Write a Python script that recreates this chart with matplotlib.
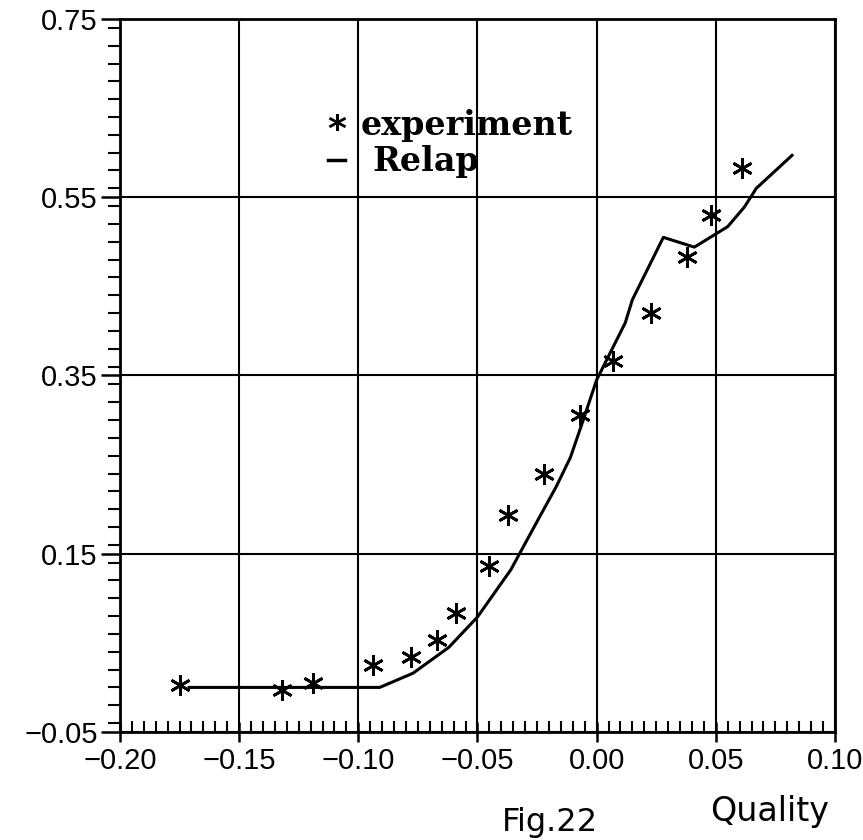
import matplotlib.pyplot as plt
from matplotlib.ticker import MultipleLocator, FixedLocator
import numpy as np

# experiment points (quality, value)
exp_x = [-0.175, -0.132, -0.119, -0.094, -0.078, -0.067, -0.059, -0.045,
         -0.037, -0.022, -0.007, 0.007, 0.023, 0.038, 0.048, 0.061]
exp_y = [0.003, -0.003, 0.005, 0.025, 0.034, 0.053, 0.084, 0.136,
         0.193, 0.240, 0.306, 0.366, 0.420, 0.483, 0.530, 0.583]

# Relap curve
relap_x = [-0.171, -0.091, -0.077, -0.062, -0.050, -0.036, -0.024, -0.017,
           -0.011, -0.006, 0.000, 0.012, 0.015, 0.028, 0.041, 0.055,
           0.062, 0.067, 0.082]
relap_y = [0.000, 0.000, 0.016, 0.045, 0.079, 0.132, 0.191, 0.225,
           0.258, 0.297, 0.345, 0.409, 0.435, 0.505, 0.494, 0.517,
           0.539, 0.560, 0.597]

xticks = [-0.20, -0.15, -0.10, -0.05, 0.00, 0.05, 0.10]
yticks = [-0.05, 0.15, 0.35, 0.55, 0.75]

def fmt(v):
    return ('%.2f' % v).replace('-', '\u2212')

fig = plt.figure(figsize=(8.63, 8.40), dpi=100)
ax = fig.add_axes([0.139, 0.1286, 0.8285, 0.8488])

ax.plot(relap_x, relap_y, color='black', lw=2.2)
ax.plot(exp_x, exp_y, ls='none', marker=(6, 2, 0), ms=15, mew=2.0, color='black')

ax.set_xlim(-0.20, 0.10)
ax.set_ylim(-0.05, 0.75)
ax.xaxis.set_major_locator(FixedLocator(xticks))
ax.yaxis.set_major_locator(FixedLocator(yticks))
ax.xaxis.set_minor_locator(MultipleLocator(0.005))
ax.yaxis.set_minor_locator(MultipleLocator(0.02))
ax.set_xticklabels([fmt(v) for v in xticks])
ax.set_yticklabels([fmt(v) for v in yticks])

ax.grid(True, which='major', color='black', lw=1.5)
for s in ax.spines.values():
    s.set_linewidth(2.0)

ax.tick_params(axis='x', which='major', direction='inout', length=14, width=1.8,
               labelsize=21, pad=4)
ax.tick_params(axis='x', which='minor', direction='in', length=8, width=1.5)
ax.tick_params(axis='y', which='major', direction='out', length=14, width=1.8,
               labelsize=21, pad=2)
ax.tick_params(axis='y', which='minor', direction='out', length=9, width=1.5)
for lab in ax.get_xticklabels() + ax.get_yticklabels():
    lab.set_fontfamily('Liberation Sans')

# hand-drawn legend
ax.text(-0.109, 0.625, '*', fontsize=26, fontweight='bold', ha='center', va='center',
        family='DejaVu Sans')
ax.text(-0.099, 0.630, 'experiment', fontsize=24, ha='left', va='center',
        family='DejaVu Serif', fontweight='bold')
ax.plot([-0.1125, -0.1055], [0.592, 0.592], color='black', lw=2.5)
ax.text(-0.094, 0.590, 'Relap', fontsize=24, ha='left', va='center',
        family='DejaVu Serif', fontweight='bold')

fig.text(770 / 863, 1 - 812 / 840, 'Quality', fontsize=24, ha='center', va='center',
         family='DejaVu Sans')
fig.text(550 / 863, 1 - 838 / 840, 'Fig.22', fontsize=23, ha='center', va='bottom',
         family='DejaVu Sans')

fig.savefig('out.png', dpi=100)
